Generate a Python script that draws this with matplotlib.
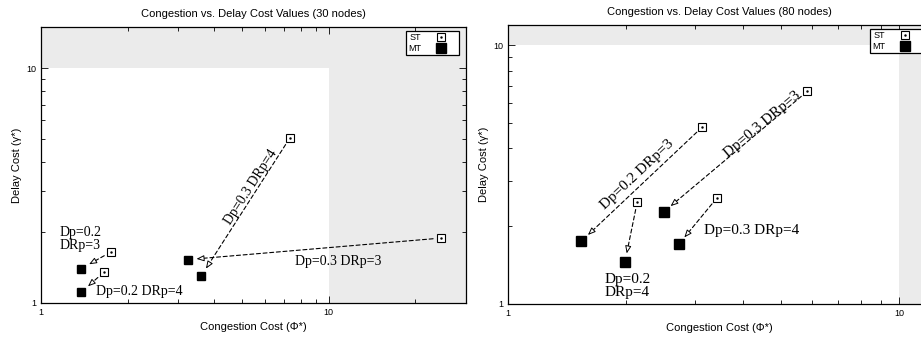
import numpy as np
import matplotlib
matplotlib.use('Agg')
import matplotlib.pyplot as plt
from matplotlib.lines import Line2D
from matplotlib.patches import Rectangle
from matplotlib.ticker import FixedLocator, FixedFormatter, LogLocator, NullFormatter

plt.rcParams['font.family'] = ['Liberation Sans', 'DejaVu Sans']

# 30 nodes: ST (start) -> MT (end)
st30_x = [7.32, 24.5, 1.75, 1.65]
st30_y = [5.04, 1.89, 1.65, 1.35]
mt30_x = [3.60, 3.23, 1.38, 1.38]
mt30_y = [1.30, 1.53, 1.40, 1.11]
labels30 = ['Dp=0.3 DRp=4', 'Dp=0.3 DRp=3', 'Dp=0.2\nDRp=3', 'Dp=0.2 DRp=4']

# 80 nodes
st80_x = [5.82, 3.14, 2.14, 3.42]
st80_y = [6.64, 4.84, 2.48, 2.57]
mt80_x = [2.50, 1.54, 1.99, 2.73]
mt80_y = [2.27, 1.75, 1.45, 1.70]
labels80 = ['Dp=0.3 DRp=3', 'Dp=0.2 DRp=3', 'Dp=0.2\nDRp=4', 'Dp=0.3 DRp=4']

# label placement: (x, y, ha, rotate along arrow)
place30 = [(5.36, 3.13, 'center', True), (7.62, 1.50, 'left', False),
           (1.158, 1.87, 'left', False), (1.55, 1.12, 'left', False)]
place80 = [(4.46, 4.95, 'center', True), (2.14, 3.16, 'center', True),
           (2.02, 1.17, 'center', False), (3.18, 1.93, 'left', False)]

GRAY = '#ebebeb'


def setup(ax, xmax, ymax, title):
    ax.set_xscale('log')
    ax.set_yscale('log')
    ax.set_xlim(1, xmax)
    ax.set_ylim(1, ymax)
    ax.set_facecolor(GRAY)
    ax.add_patch(Rectangle((1, 1), 9, 9, fc='white', ec='none', zorder=0))
    for a in (ax.xaxis, ax.yaxis):
        a.set_major_locator(FixedLocator([1, 10]))
        a.set_major_formatter(FixedFormatter(['1', '10']))
        a.set_minor_locator(LogLocator(subs=np.arange(2, 10)))
        a.set_minor_formatter(NullFormatter())
    ax.tick_params(which='both', direction='in', top=True, right=True,
                   labelsize=6.5, width=0.6)
    ax.tick_params(which='major', length=5)
    ax.tick_params(which='minor', length=3)
    for s in ax.spines.values():
        s.set_linewidth(0.9)
    ax.set_title(title, fontsize=8, pad=7.5)
    ax.set_xlabel('Congestion Cost (\u03a6*)', fontsize=8, labelpad=4)
    ax.set_ylabel('Delay Cost (\u03b3*)', fontsize=8, labelpad=3)


def arrow(ax, p0, p1):
    d0 = ax.transData.transform(p0)
    d1 = ax.transData.transform(p1)
    u = (d1 - d0) / np.hypot(*(d1 - d0))
    ax.annotate('', xy=p1, xytext=p0,
                arrowprops=dict(arrowstyle='-', ls=(0, (3.6, 2.4)), lw=0.8,
                                color='k', shrinkA=5.5, shrinkB=10.5))
    ax.annotate('', xy=p1, xytext=(-u[0] * 11.5, -u[1] * 11.5),
                textcoords='offset points',
                arrowprops=dict(arrowstyle='-|>,head_length=0.45,head_width=0.18',
                                lw=0.7, fc='white', ec='k', shrinkA=0, shrinkB=6.5))
    return np.degrees(np.arctan2(-u[1], -u[0]))


def panel(ax, st_x, st_y, mt_x, mt_y, labels, place, fs, ms):
    for i in range(len(st_x)):
        ang = arrow(ax, (st_x[i], st_y[i]), (mt_x[i], mt_y[i]))
        x, y, ha, rot = place[i]
        ax.text(x, y, labels[i], family='Liberation Serif', fontsize=fs,
                ha=ha, va='center', multialignment=ha,
                rotation=ang if rot else 0, rotation_mode='anchor',
                linespacing=1.0, zorder=6)
    ax.plot(st_x, st_y, ls='none', marker='s', ms=ms - 0.3, mfc='white', mec='k',
            mew=0.8, zorder=4)
    ax.plot(st_x, st_y, ls='none', marker='.', ms=1.5, color='k', zorder=5)
    ax.plot(mt_x, mt_y, ls='none', marker='s', ms=ms, color='k', zorder=4)

    st_h = (Line2D([], [], ls='none', marker='s', ms=5.5, mfc='white', mec='k', mew=0.8),
            Line2D([], [], ls='none', marker='.', ms=1.5, color='k'))
    mt_h = Line2D([], [], ls='none', marker='s', ms=6.5, color='k')
    leg = ax.legend([st_h, mt_h], ['ST', 'MT'], loc='upper right',
                    bbox_to_anchor=(0.9835, 0.9855), borderaxespad=0,
                    markerfirst=False, fontsize=6.5, fancybox=False,
                    edgecolor='k', framealpha=1, borderpad=0.25,
                    labelspacing=0.2, handlelength=3.5, handletextpad=0.45)
    leg.get_frame().set_linewidth(0.9)


fig = plt.figure(figsize=(9.21, 3.38), dpi=100)
ax1 = fig.add_axes([0.0445, 0.1036, 0.4615, 0.8166])
ax2 = fig.add_axes([0.5516, 0.1006, 0.4582, 0.8254])

setup(ax1, 30, 15, 'Congestion vs. Delay Cost Values (30 nodes)')
setup(ax2, 12, 12, 'Congestion vs. Delay Cost Values (80 nodes)')

panel(ax1, st30_x, st30_y, mt30_x, mt30_y, labels30, place30, 10, 6.2)
panel(ax2, st80_x, st80_y, mt80_x, mt80_y, labels80, place80, 11, 6.6)

fig.savefig('out.png', dpi=100)
